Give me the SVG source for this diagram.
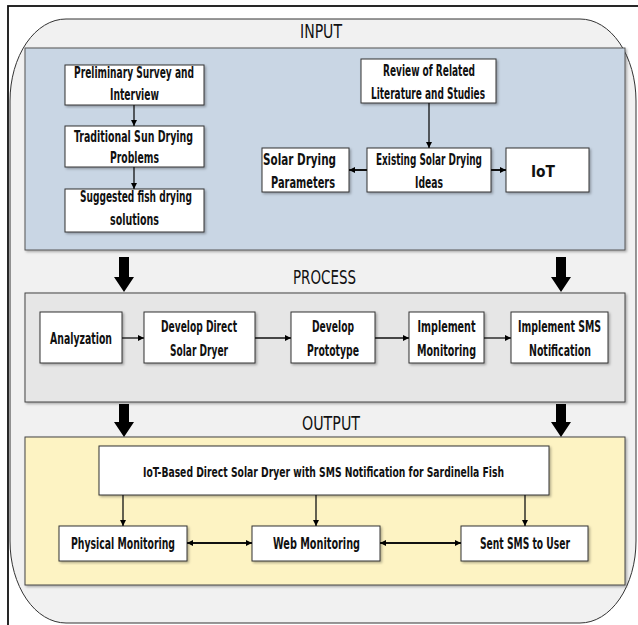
<svg xmlns="http://www.w3.org/2000/svg" width="638" height="625" viewBox="0 0 638 625">
<defs>
<marker id="ah" viewBox="0 0 10 10" refX="10" refY="5" markerWidth="6" markerHeight="6" markerUnits="userSpaceOnUse" orient="auto-start-reverse">
<path d="M0,0 L10,5 L0,10 z" fill="#000"/>
</marker>
<filter id="sh" x="-5%" y="-5%" width="115%" height="115%">
<feDropShadow dx="1.5" dy="1.5" stdDeviation="1" flood-color="#000" flood-opacity="0.3"/>
</filter>
</defs>
<style>
.t{font-family:"Liberation Sans Narrow","DejaVu Sans Condensed","Liberation Sans",sans-serif;font-weight:bold;font-size:15px;fill:#111;text-anchor:middle}
.h{font-size:20px;font-weight:normal}
.box{fill:#fff;stroke:#333;stroke-width:1;filter:url(#sh)}
.ln{stroke:#111;stroke-width:1.3;fill:none;marker-end:url(#ah)}
.dl{stroke:#111;stroke-width:2;fill:none;marker-end:url(#ah);marker-start:url(#ah)}
.big{fill:#000}
</style>
<rect x="0" y="0" width="638" height="625" fill="#fff"/>
<rect x="8" y="6" width="640" height="640" fill="none" stroke="#111" stroke-width="1.8"/>
<rect id="frame" x="10" y="19" width="626" height="604" rx="56" ry="82" fill="#f1f1f1" stroke="#333" stroke-width="1"/>

<g id="input-panel">
<rect x="25" y="48" width="600" height="202" fill="#c9d6e4" stroke="#555" stroke-width="1" filter="url(#sh)"/>
<text class="t h" x="321" y="38" textLength="42" lengthAdjust="spacingAndGlyphs">INPUT</text>
</g>
<g id="process-panel">
<rect x="25" y="293" width="600" height="109" fill="#e6e6e6" stroke="#444" stroke-width="1" filter="url(#sh)"/>
<text class="t h" x="324.5" y="284" textLength="63" lengthAdjust="spacingAndGlyphs">PROCESS</text>
</g>
<g id="output-panel">
<rect x="25" y="437" width="600" height="148" fill="#fdf3c3" stroke="#444" stroke-width="1" filter="url(#sh)"/>
<text class="t h" x="331" y="430" textLength="58" lengthAdjust="spacingAndGlyphs">OUTPUT</text>
</g>

<g id="n-survey"><rect class="box" x="65" y="65" width="139" height="40"/>
<text class="t" x="134" y="78" textLength="120" lengthAdjust="spacingAndGlyphs">Preliminary Survey and</text>
<text class="t" x="134.5" y="100" textLength="49" lengthAdjust="spacingAndGlyphs">Interview</text></g>
<g id="n-traditional"><rect class="box" x="65" y="126" width="139" height="41"/>
<text class="t" x="133.5" y="142" textLength="119" lengthAdjust="spacingAndGlyphs">Traditional Sun Drying</text>
<text class="t" x="134.5" y="163" textLength="49" lengthAdjust="spacingAndGlyphs">Problems</text></g>
<g id="n-suggested"><rect class="box" x="65" y="189" width="139" height="43"/>
<text class="t" x="136" y="202" textLength="112" lengthAdjust="spacingAndGlyphs">Suggested fish drying</text>
<text class="t" x="134.5" y="225" textLength="49" lengthAdjust="spacingAndGlyphs">solutions</text></g>
<g id="n-review"><rect class="box" x="361" y="59" width="135" height="44"/>
<text class="t" x="429" y="76" textLength="92" lengthAdjust="spacingAndGlyphs">Review of Related</text>
<text class="t" x="428" y="99" textLength="114" lengthAdjust="spacingAndGlyphs">Literature and Studies</text></g>
<g id="n-existing"><rect class="box" x="367" y="148" width="124" height="44"/>
<text class="t" x="429" y="165" textLength="106" lengthAdjust="spacingAndGlyphs">Existing Solar Drying</text>
<text class="t" x="429" y="188" textLength="28" lengthAdjust="spacingAndGlyphs">Ideas</text></g>
<g id="n-params"><rect class="box" x="262" y="148" width="87" height="44"/>
<text class="t" x="299.5" y="165" textLength="73" lengthAdjust="spacingAndGlyphs">Solar Drying</text>
<text class="t" x="303" y="188" textLength="64" lengthAdjust="spacingAndGlyphs">Parameters</text></g>
<g id="n-iot"><rect class="box" x="506" y="148" width="83" height="44"/>
<text class="t" x="543" y="177" textLength="24" lengthAdjust="spacingAndGlyphs">IoT</text></g>

<g id="n-analyzation"><rect class="box" x="40" y="312" width="82" height="51"/>
<text class="t" x="81" y="344" textLength="62" lengthAdjust="spacingAndGlyphs">Analyzation</text></g>
<g id="n-develop-direct"><rect class="box" x="144" y="312" width="111" height="51"/>
<text class="t" x="199" y="332" textLength="76" lengthAdjust="spacingAndGlyphs">Develop Direct</text>
<text class="t" x="199" y="356" textLength="58" lengthAdjust="spacingAndGlyphs">Solar Dryer</text></g>
<g id="n-prototype"><rect class="box" x="291" y="312" width="84" height="51"/>
<text class="t" x="333" y="332" textLength="42" lengthAdjust="spacingAndGlyphs">Develop</text>
<text class="t" x="333" y="356" textLength="52" lengthAdjust="spacingAndGlyphs">Prototype</text></g>
<g id="n-impl-mon"><rect class="box" x="409" y="312" width="75" height="51"/>
<text class="t" x="446.5" y="332" textLength="58" lengthAdjust="spacingAndGlyphs">Implement</text>
<text class="t" x="446.5" y="356" textLength="59" lengthAdjust="spacingAndGlyphs">Monitoring</text></g>
<g id="n-impl-sms"><rect class="box" x="511" y="312" width="97" height="51"/>
<text class="t" x="559.5" y="332" textLength="83" lengthAdjust="spacingAndGlyphs">Implement SMS</text>
<text class="t" x="560" y="356" textLength="62" lengthAdjust="spacingAndGlyphs">Notification</text></g>

<g id="n-iot-dryer"><rect class="box" x="99" y="446" width="450" height="49"/>
<text class="t" x="323.5" y="477" style="font-size:14px" textLength="361" lengthAdjust="spacingAndGlyphs">IoT-Based Direct Solar Dryer with SMS Notification for Sardinella Fish</text></g>
<g id="n-physical"><rect class="box" x="59" y="526" width="128" height="35"/>
<text class="t" x="123" y="549" textLength="104" lengthAdjust="spacingAndGlyphs">Physical Monitoring</text></g>
<g id="n-web"><rect class="box" x="252" y="526" width="128" height="35"/>
<text class="t" x="316.5" y="549" textLength="87" lengthAdjust="spacingAndGlyphs">Web Monitoring</text></g>
<g id="n-sms"><rect class="box" x="461" y="526" width="127" height="35"/>
<text class="t" x="525" y="549" textLength="90" lengthAdjust="spacingAndGlyphs">Sent SMS to User</text></g>

<g id="connectors">
<line class="ln" x1="134" y1="105" x2="134" y2="126"/>
<line class="ln" x1="134" y1="167" x2="134" y2="189"/>
<line class="ln" x1="429" y1="103" x2="429" y2="148"/>
<line class="ln" x1="367" y1="170" x2="349" y2="170" style="stroke-width:2"/>
<line class="ln" x1="491" y1="170" x2="506" y2="170" style="stroke-width:2"/>
<line class="ln" x1="122" y1="338" x2="144" y2="338"/>
<line class="ln" x1="255" y1="338" x2="291" y2="338"/>
<line class="ln" x1="375" y1="338" x2="409" y2="338"/>
<line class="ln" x1="484" y1="338" x2="511" y2="338"/>
<line class="ln" x1="123" y1="495" x2="123" y2="526"/>
<line class="ln" x1="316" y1="495" x2="316" y2="526"/>
<line class="ln" x1="525" y1="495" x2="525" y2="526"/>
<line class="dl" x1="187" y1="543" x2="252" y2="543"/>
<line class="dl" x1="380" y1="543" x2="461" y2="543"/>
<path class="big" d="M119,257 h10 v20 h5 l-10,15 l-10,-15 h5 z"/>
<path class="big" d="M556,257 h10 v20 h5 l-10,15 l-10,-15 h5 z"/>
<path class="big" d="M119,404 h10 v18 h5 l-10,15 l-10,-15 h5 z"/>
<path class="big" d="M556,404 h10 v18 h5 l-10,15 l-10,-15 h5 z"/>
</g>
</svg>
